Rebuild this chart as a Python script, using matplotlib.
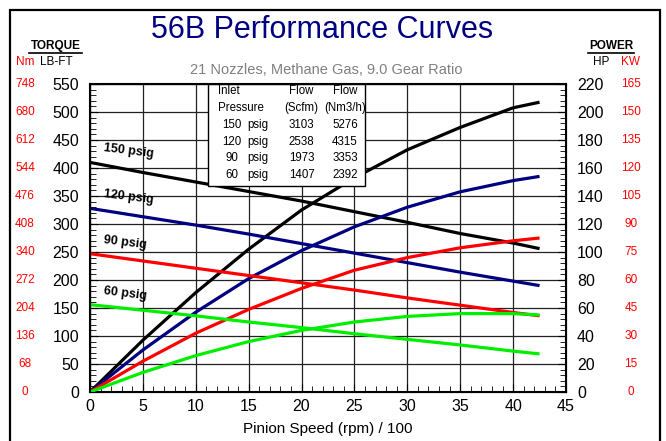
import matplotlib.pyplot as plt
import matplotlib.transforms as mtransforms
from matplotlib.patches import Rectangle

plt.rcParams['font.family'] = ['Liberation Sans', 'DejaVu Sans']

# pinion speed (rpm/100)
speed = [0, 5, 10, 15, 20, 25, 30, 35, 40, 42.5]

# torque, lb-ft
torque_150 = [410, 392, 375, 358, 341, 322, 303, 283, 266, 256]
torque_120 = [328, 313, 298, 282, 265, 248, 231, 214, 198, 190]
torque_90 = [247, 234, 221, 208, 195, 182, 168, 155, 142, 136]
torque_60 = [156, 146, 136, 125, 115, 104, 94, 84, 73, 68]

# power, HP
hp_150 = [0, 37, 71, 102, 130, 153, 173, 189, 203, 207]
hp_120 = [0, 30, 57, 81, 101, 118, 132, 143, 151, 154]
hp_90 = [0, 22, 42, 59, 74, 87, 96, 103, 108, 110]
hp_60 = [0, 14, 26, 36, 44, 50, 54, 56, 56, 55]

psig_labels = ['150 psig', '120 psig', '90 psig', '60 psig']
colors = ['black', '#000080', '#ff0000', '#00ee00']

lbft_ticks = [0, 50, 100, 150, 200, 250, 300, 350, 400, 450, 500, 550]
nm_labels = ['0', '68', '136', '204', '272', '340', '408', '476', '544', '612', '680', '748']
hp_ticks = [0, 20, 40, 60, 80, 100, 120, 140, 160, 180, 200, 220]
kw_labels = ['0', '15', '30', '45', '60', '75', '90', '105', '120', '135', '150', '165']

table_head = [['Inlet', 'Flow', 'Flow'], ['Pressure', '(Scfm)', '(Nm3/h)']]
table_rows = [
    ['150', 'psig', '3103', '5276'],
    ['120', 'psig', '2538', '4315'],
    ['90', 'psig', '1973', '3353'],
    ['60', 'psig', '1407', '2392'],
]

fig = plt.figure(figsize=(6.66, 4.41), dpi=100)
fig.patches.append(Rectangle((10 / 666, -0.1), 650 / 666, 1.1 - 10 / 441, transform=fig.transFigure,
                             fill=False, edgecolor='black', linewidth=1.6))
ax = fig.add_axes([90 / 666, 49 / 441, 476 / 666, 308 / 441])

torques = [torque_150, torque_120, torque_90, torque_60]
hps = [hp_150, hp_120, hp_90, hp_60]
for t, h, c in zip(torques, hps, colors):
    ax.plot(speed, t, color=c, lw=2.3, solid_capstyle='butt', zorder=3)
    ax.plot(speed, [v * 2.5 for v in h], color=c, lw=2.3, solid_capstyle='butt', zorder=3)

for t, lab in zip(torques, psig_labels):
    ax.text(1.2, t[0] + 4, lab, fontsize=9, fontweight='bold', rotation=-7,
            ha='left', va='bottom', zorder=4)

ax.set_xlim(0, 45)
ax.set_ylim(0, 550)
ax.set_xticks(range(0, 46, 5))
ax.set_xticks(range(0, 46, 1), minor=True)
ax.set_yticks(lbft_ticks)
ax.set_yticks(range(0, 551, 10), minor=True)
ax.grid(True, which='major', color='#222222', lw=0.9)
ax.tick_params(which='both', direction='in', labelsize=11.5, pad=8)
ax.tick_params(which='major', length=6)
ax.tick_params(which='minor', length=4)
ax.tick_params(axis='x', pad=5)
for s in ax.spines.values():
    s.set_linewidth(1.5)
ax.set_xlabel('Pinion Speed (rpm) / 100', fontsize=11, labelpad=6)

ax2 = ax.twinx()
ax2.set_ylim(0, 220)
ax2.set_yticks(hp_ticks)
ax2.set_yticks(range(0, 221, 4), minor=True)
ax2.tick_params(which='both', direction='in', labelsize=11.5, pad=8)
ax2.tick_params(which='major', length=6)
ax2.tick_params(which='minor', length=4)

# red metric labels
trl = mtransforms.blended_transform_factory(fig.transFigure, ax.transData)
for v, lab in zip(lbft_ticks, nm_labels):
    fig.text(25 / 666, v, lab, color='red', fontsize=8.5, ha='center', va='center', transform=trl)
trr = mtransforms.blended_transform_factory(fig.transFigure, ax2.transData)
for v, lab in zip(hp_ticks, kw_labels):
    fig.text(631 / 666, v, lab, color='red', fontsize=8.5, ha='center', va='center', transform=trr)

# headers
fig.text(0.484, 1 - 30 / 441, '56B Performance Curves', color='#000080', fontsize=22,
         ha='center', va='center')
fig.text(0.49, 1 - 70 / 441, '21 Nozzles, Methane Gas, 9.0 Gear Ratio', color='#808080',
         fontsize=10.5, ha='center', va='center')
fig.text(56 / 666, 1 - 46 / 441, 'TORQUE', fontsize=8.5, fontweight='bold', ha='center', va='center')
fig.add_artist(plt.Line2D([29 / 666, 82 / 666], [1 - 53 / 441] * 2, color='black', lw=1.2))
fig.text(25 / 666, 1 - 62 / 441, 'Nm', color='red', fontsize=8.5, ha='center', va='center')
fig.text(56 / 666, 1 - 62 / 441, 'LB-FT', fontsize=8.5, ha='center', va='center')
fig.text(611 / 666, 1 - 46 / 441, 'POWER', fontsize=8.5, fontweight='bold', ha='center', va='center')
fig.add_artist(plt.Line2D([588 / 666, 634 / 666], [1 - 53 / 441] * 2, color='black', lw=1.2))
fig.text(601 / 666, 1 - 62 / 441, 'HP', fontsize=8.5, ha='center', va='center')
fig.text(630 / 666, 1 - 62 / 441, 'KW', color='red', fontsize=8.5, ha='center', va='center')

# flow table
ax.add_patch(Rectangle((11.15, 367), 14.85, 183, facecolor='white', edgecolor='black',
                       lw=1.0, zorder=5))
row_y = 537
for i, row in enumerate(table_head):
    for x, cell, ha in zip([12.1, 20.0, 24.1], row, ['left', 'center', 'center']):
        ax.text(x, row_y, cell, fontsize=8.3, ha=ha, va='center', zorder=6)
    row_y -= 30
for row in table_rows:
    for x, cell in zip([13.4, 15.9, 20.0, 24.1], row):
        ax.text(x, row_y, cell, fontsize=8.3, ha='center', va='center', zorder=6)
    row_y -= 30

fig.savefig('out.png', dpi=100)
